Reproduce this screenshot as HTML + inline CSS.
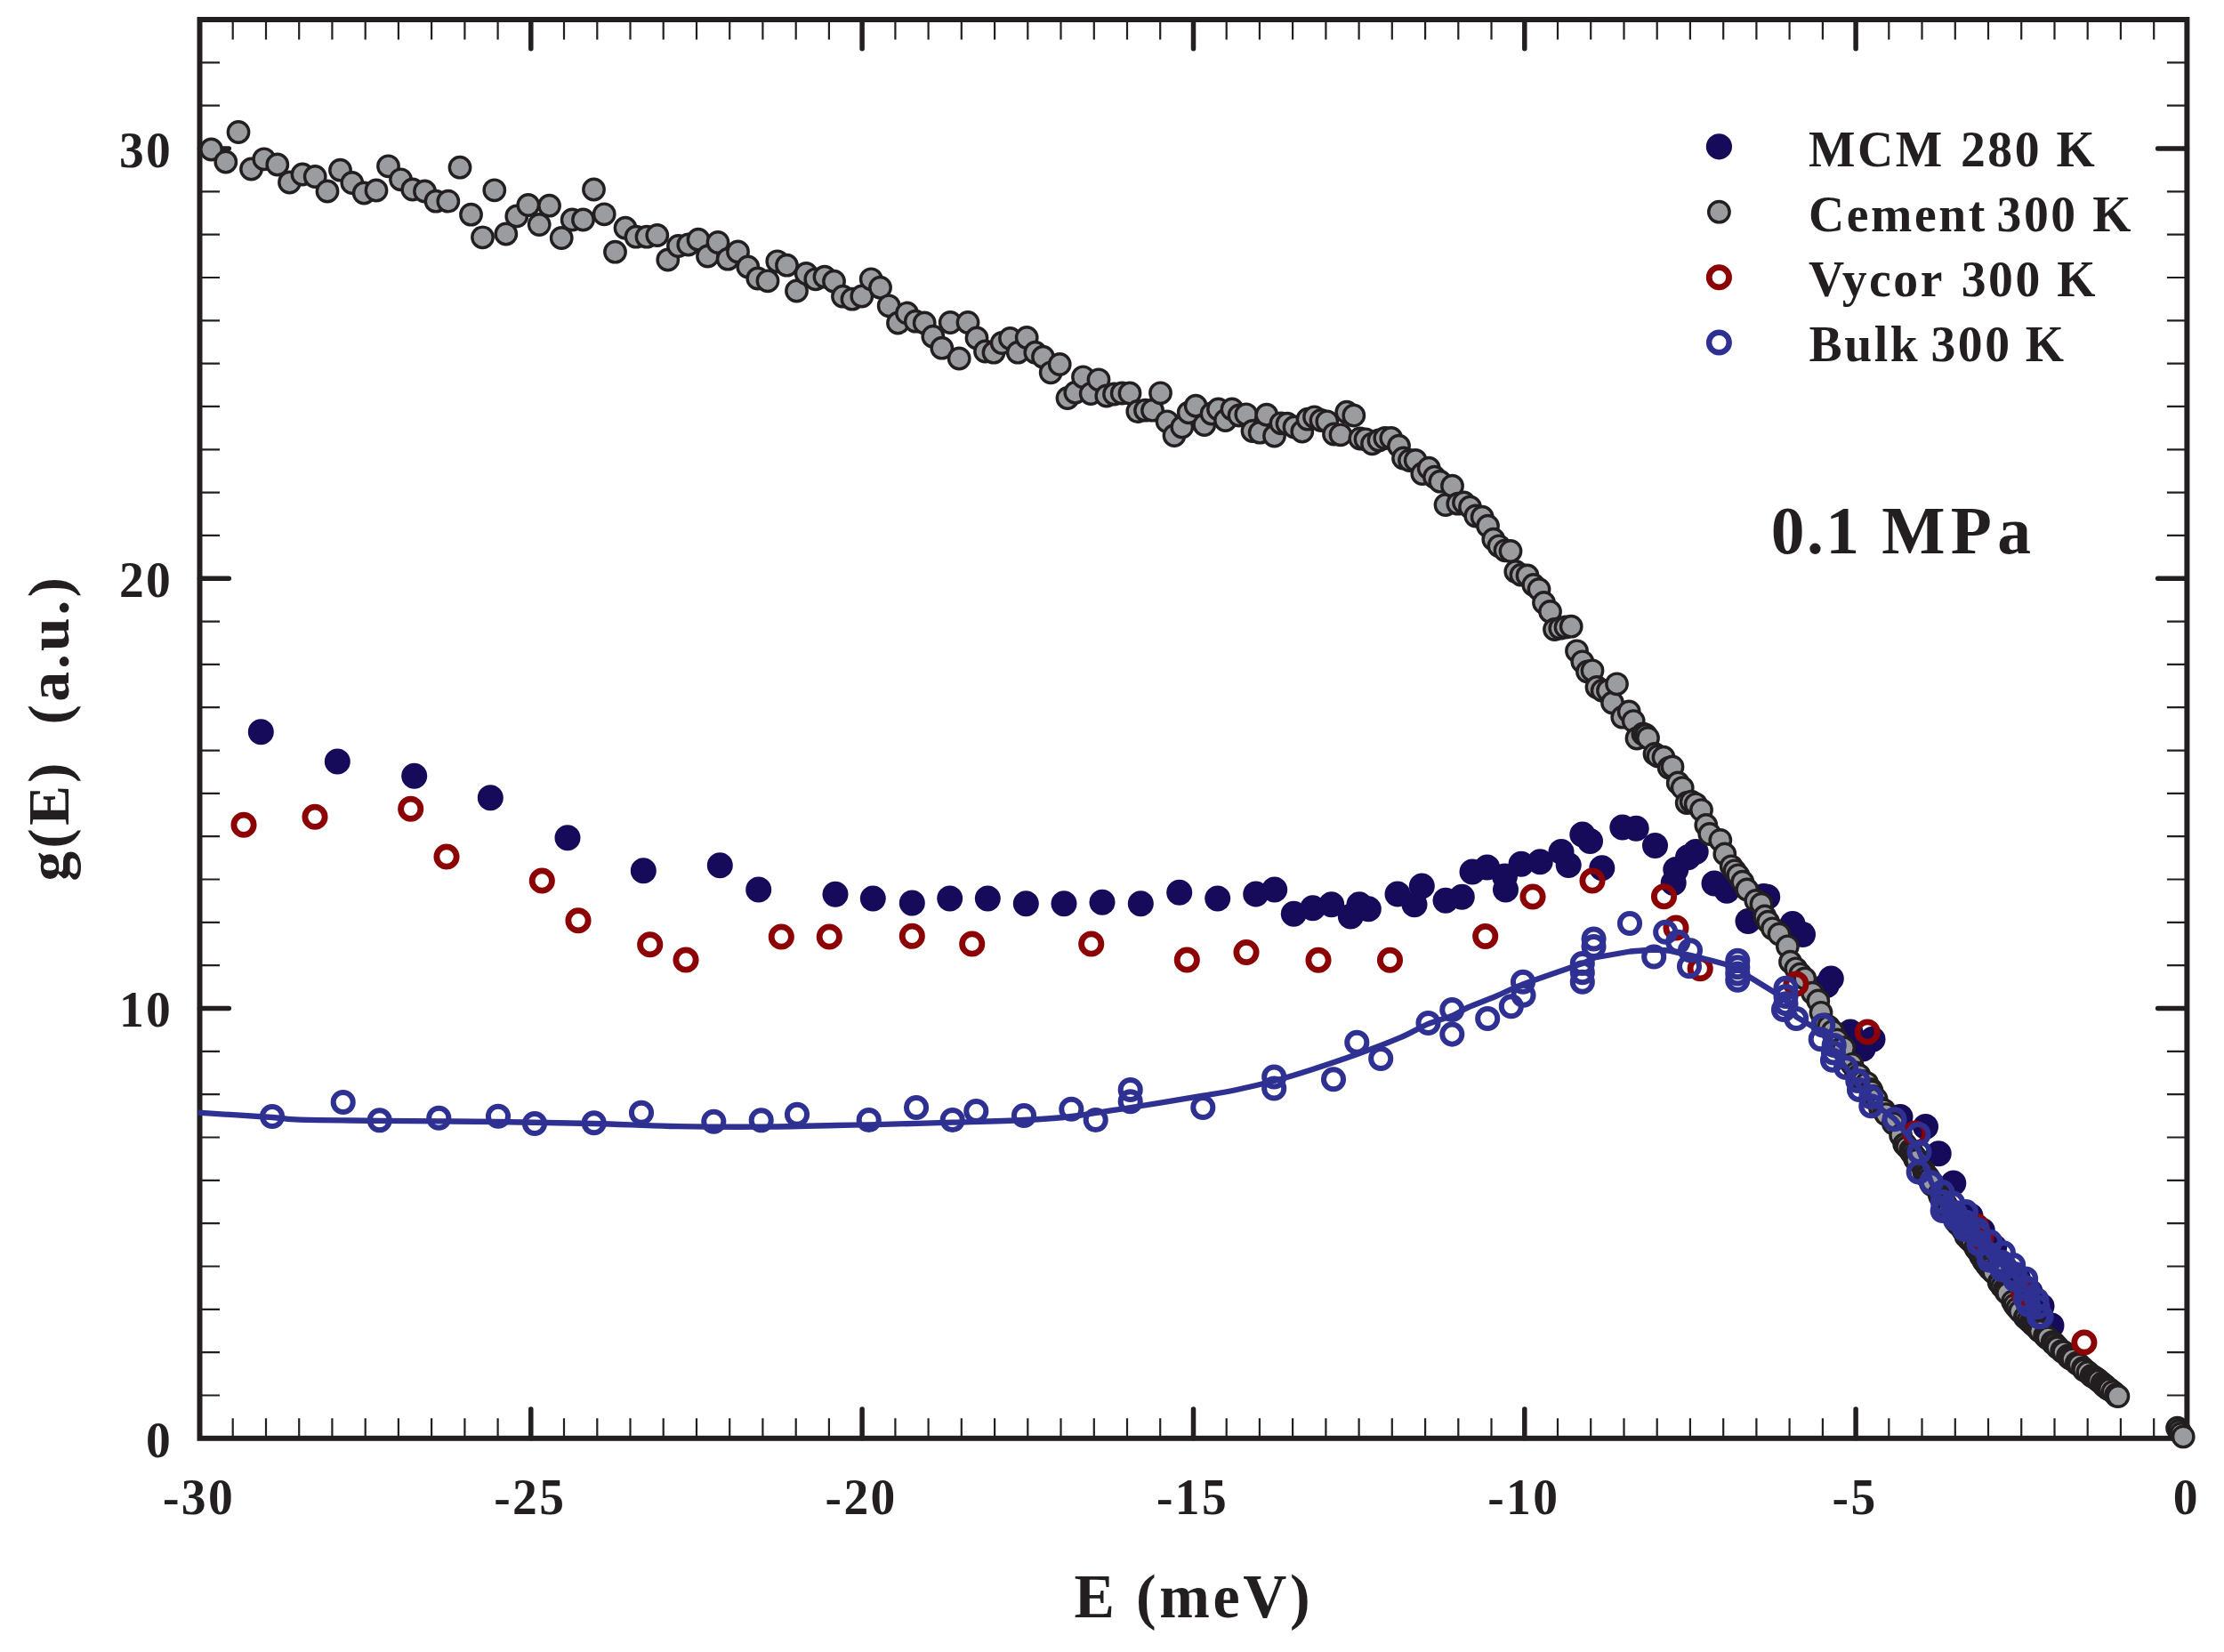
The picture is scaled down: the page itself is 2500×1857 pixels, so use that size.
<!DOCTYPE html>
<html lang="en"><head><meta charset="utf-8"><title>g(E) vs E</title>
<style>html,body{margin:0;padding:0;background:#fff}body{width:2500px;height:1857px;overflow:hidden}svg{display:block}text{font-family:"Liberation Serif","Times New Roman",serif;font-weight:bold;fill:#231f20}</style>
</head><body>
<svg width="2500" height="1857" viewBox="0 0 2500 1857">
<rect width="2500" height="1857" fill="#fff"/>
<g stroke="#231f20" fill="none">
<rect x="224.5" y="22.0" width="2233.9" height="1594.8" stroke-width="6"/>
<path stroke-width="2.2" d="M261.7 1616.8L261.7 1594.3M261.7 22.0L261.7 44.5M299.0 1616.8L299.0 1594.3M299.0 22.0L299.0 44.5M336.2 1616.8L336.2 1594.3M336.2 22.0L336.2 44.5M373.4 1616.8L373.4 1594.3M373.4 22.0L373.4 44.5M410.7 1616.8L410.7 1594.3M410.7 22.0L410.7 44.5M447.9 1616.8L447.9 1594.3M447.9 22.0L447.9 44.5M485.1 1616.8L485.1 1594.3M485.1 22.0L485.1 44.5M522.4 1616.8L522.4 1594.3M522.4 22.0L522.4 44.5M559.6 1616.8L559.6 1594.3M559.6 22.0L559.6 44.5M634.0 1616.8L634.0 1594.3M634.0 22.0L634.0 44.5M671.3 1616.8L671.3 1594.3M671.3 22.0L671.3 44.5M708.5 1616.8L708.5 1594.3M708.5 22.0L708.5 44.5M745.7 1616.8L745.7 1594.3M745.7 22.0L745.7 44.5M783.0 1616.8L783.0 1594.3M783.0 22.0L783.0 44.5M820.2 1616.8L820.2 1594.3M820.2 22.0L820.2 44.5M857.4 1616.8L857.4 1594.3M857.4 22.0L857.4 44.5M894.7 1616.8L894.7 1594.3M894.7 22.0L894.7 44.5M931.9 1616.8L931.9 1594.3M931.9 22.0L931.9 44.5M1006.4 1616.8L1006.4 1594.3M1006.4 22.0L1006.4 44.5M1043.6 1616.8L1043.6 1594.3M1043.6 22.0L1043.6 44.5M1080.8 1616.8L1080.8 1594.3M1080.8 22.0L1080.8 44.5M1118.1 1616.8L1118.1 1594.3M1118.1 22.0L1118.1 44.5M1155.3 1616.8L1155.3 1594.3M1155.3 22.0L1155.3 44.5M1192.5 1616.8L1192.5 1594.3M1192.5 22.0L1192.5 44.5M1229.8 1616.8L1229.8 1594.3M1229.8 22.0L1229.8 44.5M1267.0 1616.8L1267.0 1594.3M1267.0 22.0L1267.0 44.5M1304.2 1616.8L1304.2 1594.3M1304.2 22.0L1304.2 44.5M1378.7 1616.8L1378.7 1594.3M1378.7 22.0L1378.7 44.5M1415.9 1616.8L1415.9 1594.3M1415.9 22.0L1415.9 44.5M1453.1 1616.8L1453.1 1594.3M1453.1 22.0L1453.1 44.5M1490.4 1616.8L1490.4 1594.3M1490.4 22.0L1490.4 44.5M1527.6 1616.8L1527.6 1594.3M1527.6 22.0L1527.6 44.5M1564.8 1616.8L1564.8 1594.3M1564.8 22.0L1564.8 44.5M1602.1 1616.8L1602.1 1594.3M1602.1 22.0L1602.1 44.5M1639.3 1616.8L1639.3 1594.3M1639.3 22.0L1639.3 44.5M1676.5 1616.8L1676.5 1594.3M1676.5 22.0L1676.5 44.5M1751.0 1616.8L1751.0 1594.3M1751.0 22.0L1751.0 44.5M1788.2 1616.8L1788.2 1594.3M1788.2 22.0L1788.2 44.5M1825.5 1616.8L1825.5 1594.3M1825.5 22.0L1825.5 44.5M1862.7 1616.8L1862.7 1594.3M1862.7 22.0L1862.7 44.5M1899.9 1616.8L1899.9 1594.3M1899.9 22.0L1899.9 44.5M1937.2 1616.8L1937.2 1594.3M1937.2 22.0L1937.2 44.5M1974.4 1616.8L1974.4 1594.3M1974.4 22.0L1974.4 44.5M2011.6 1616.8L2011.6 1594.3M2011.6 22.0L2011.6 44.5M2048.9 1616.8L2048.9 1594.3M2048.9 22.0L2048.9 44.5M2123.3 1616.8L2123.3 1594.3M2123.3 22.0L2123.3 44.5M2160.5 1616.8L2160.5 1594.3M2160.5 22.0L2160.5 44.5M2197.8 1616.8L2197.8 1594.3M2197.8 22.0L2197.8 44.5M2235.0 1616.8L2235.0 1594.3M2235.0 22.0L2235.0 44.5M2272.2 1616.8L2272.2 1594.3M2272.2 22.0L2272.2 44.5M2309.5 1616.8L2309.5 1594.3M2309.5 22.0L2309.5 44.5M2346.7 1616.8L2346.7 1594.3M2346.7 22.0L2346.7 44.5M2383.9 1616.8L2383.9 1594.3M2383.9 22.0L2383.9 44.5M2421.2 1616.8L2421.2 1594.3M2421.2 22.0L2421.2 44.5M224.5 1568.5L247.0 1568.5M2458.4 1568.5L2435.9 1568.5M224.5 1520.1L247.0 1520.1M2458.4 1520.1L2435.9 1520.1M224.5 1471.8L247.0 1471.8M2458.4 1471.8L2435.9 1471.8M224.5 1423.5L247.0 1423.5M2458.4 1423.5L2435.9 1423.5M224.5 1375.2L247.0 1375.2M2458.4 1375.2L2435.9 1375.2M224.5 1326.8L247.0 1326.8M2458.4 1326.8L2435.9 1326.8M224.5 1278.5L247.0 1278.5M2458.4 1278.5L2435.9 1278.5M224.5 1230.2L247.0 1230.2M2458.4 1230.2L2435.9 1230.2M224.5 1181.9L247.0 1181.9M2458.4 1181.9L2435.9 1181.9M224.5 1085.2L247.0 1085.2M2458.4 1085.2L2435.9 1085.2M224.5 1036.9L247.0 1036.9M2458.4 1036.9L2435.9 1036.9M224.5 988.5L247.0 988.5M2458.4 988.5L2435.9 988.5M224.5 940.2L247.0 940.2M2458.4 940.2L2435.9 940.2M224.5 891.9L247.0 891.9M2458.4 891.9L2435.9 891.9M224.5 843.6L247.0 843.6M2458.4 843.6L2435.9 843.6M224.5 795.2L247.0 795.2M2458.4 795.2L2435.9 795.2M224.5 746.9L247.0 746.9M2458.4 746.9L2435.9 746.9M224.5 698.6L247.0 698.6M2458.4 698.6L2435.9 698.6M224.5 601.9L247.0 601.9M2458.4 601.9L2435.9 601.9M224.5 553.6L247.0 553.6M2458.4 553.6L2435.9 553.6M224.5 505.3L247.0 505.3M2458.4 505.3L2435.9 505.3M224.5 456.9L247.0 456.9M2458.4 456.9L2435.9 456.9M224.5 408.6L247.0 408.6M2458.4 408.6L2435.9 408.6M224.5 360.3L247.0 360.3M2458.4 360.3L2435.9 360.3M224.5 312.0L247.0 312.0M2458.4 312.0L2435.9 312.0M224.5 263.6L247.0 263.6M2458.4 263.6L2435.9 263.6M224.5 215.3L247.0 215.3M2458.4 215.3L2435.9 215.3M224.5 118.7L247.0 118.7M2458.4 118.7L2435.9 118.7M224.5 70.3L247.0 70.3M2458.4 70.3L2435.9 70.3"/>
<path stroke-width="5.5" stroke-linecap="round" d="M596.8 1616.8L596.8 1584.0M596.8 22.0L596.8 54.8M969.1 1616.8L969.1 1584.0M969.1 22.0L969.1 54.8M1341.5 1616.8L1341.5 1584.0M1341.5 22.0L1341.5 54.8M1713.8 1616.8L1713.8 1584.0M1713.8 22.0L1713.8 54.8M2086.1 1616.8L2086.1 1584.0M2086.1 22.0L2086.1 54.8M224.5 1133.5L257.3 1133.5M2458.4 1133.5L2425.6 1133.5M224.5 650.3L257.3 650.3M2458.4 650.3L2425.6 650.3M224.5 167.0L257.3 167.0M2458.4 167.0L2425.6 167.0"/>
</g>
<text transform="translate(194.2 1637.6) scale(1 1.018)" font-size="55.5" letter-spacing="2.40" text-anchor="end" xml:space="preserve">0</text>
<text transform="translate(194.2 1154.3) scale(1 1.018)" font-size="55.5" letter-spacing="2.40" text-anchor="end" xml:space="preserve">10</text>
<text transform="translate(194.2 671.1) scale(1 1.018)" font-size="55.5" letter-spacing="2.40" text-anchor="end" xml:space="preserve">20</text>
<text transform="translate(194.2 187.8) scale(1 1.018)" font-size="55.5" letter-spacing="2.40" text-anchor="end" xml:space="preserve">30</text>
<text transform="translate(223.5 1702.3) scale(1 1.018)" font-size="55.5" letter-spacing="2.40" text-anchor="middle" xml:space="preserve">-30</text>
<text transform="translate(595.8 1702.3) scale(1 1.018)" font-size="55.5" letter-spacing="2.40" text-anchor="middle" xml:space="preserve">-25</text>
<text transform="translate(968.1 1702.3) scale(1 1.018)" font-size="55.5" letter-spacing="2.40" text-anchor="middle" xml:space="preserve">-20</text>
<text transform="translate(1340.5 1702.3) scale(1 1.018)" font-size="55.5" letter-spacing="2.40" text-anchor="middle" xml:space="preserve">-15</text>
<text transform="translate(1712.8 1702.3) scale(1 1.018)" font-size="55.5" letter-spacing="2.40" text-anchor="middle" xml:space="preserve">-10</text>
<text transform="translate(2085.1 1702.3) scale(1 1.018)" font-size="55.5" letter-spacing="2.40" text-anchor="middle" xml:space="preserve">-5</text>
<text transform="translate(2457.9 1702.3) scale(1 1.018)" font-size="55.5" letter-spacing="2.40" text-anchor="middle" xml:space="preserve">0</text>
<text transform="translate(1207.5 1817.8) scale(1 1.030)" font-size="68.0" letter-spacing="3.60" text-anchor="start" xml:space="preserve">E (meV)</text>
<text transform="translate(77.0 990.5) rotate(-90) scale(1 0.975)" font-size="67.5" letter-spacing="3.10" text-anchor="start" xml:space="preserve">g(E)  (a.u.)</text>
<text transform="translate(1990.7 621.5) scale(1 1.018)" font-size="75.5" letter-spacing="3.50" text-anchor="start" xml:space="preserve"><tspan letter-spacing="2.5">0.1</tspan> <tspan x="124.6" letter-spacing="6.3">MPa</tspan></text>
<text transform="translate(2033.0 187.1) scale(1 1.018)" font-size="55.6" letter-spacing="2.60" text-anchor="start" xml:space="preserve">MCM <tspan dx="1.5">280</tspan> K</text>
<text transform="translate(2033.0 259.9) scale(1 1.018)" font-size="55.6" letter-spacing="2.60" text-anchor="start" xml:space="preserve">Cement <tspan dx="-5.8">300</tspan> K</text>
<text transform="translate(2033.0 333.0) scale(1 1.018)" font-size="55.6" letter-spacing="2.60" text-anchor="start" xml:space="preserve">Vycor <tspan dx="3.2">300</tspan> K</text>
<text transform="translate(2033.6 406.4) scale(1 1.018)" font-size="55.6" letter-spacing="2.60" text-anchor="start" xml:space="preserve">Bulk <tspan dx="-4.4">300</tspan> <tspan dx="-1.4">K</tspan></text>
<circle cx="1932.4" cy="164.8" r="14.6" fill="#160a5a"/>
<circle cx="1932.4" cy="238.2" r="11.7" fill="#9a9c9f" stroke="#231f20" stroke-width="3.4"/>
<circle cx="1932.4" cy="311.7" r="11.15" fill="none" stroke="#8c0306" stroke-width="6.8"/>
<circle cx="1932.4" cy="385" r="11.3" fill="none" stroke="#2e3192" stroke-width="6.4"/>
<g fill="#160a5a">
<circle cx="293.3" cy="822.7" r="14.5"/>
<circle cx="379.3" cy="856.0" r="14.5"/>
<circle cx="465.7" cy="872.3" r="14.5"/>
<circle cx="551.3" cy="896.7" r="14.5"/>
<circle cx="638.0" cy="941.7" r="14.5"/>
<circle cx="723.3" cy="978.7" r="14.5"/>
<circle cx="809.3" cy="972.7" r="14.5"/>
<circle cx="852.7" cy="1000.0" r="14.5"/>
<circle cx="939.0" cy="1005.3" r="14.5"/>
<circle cx="981.3" cy="1010.0" r="14.5"/>
<circle cx="1025.3" cy="1015.0" r="14.5"/>
<circle cx="1067.7" cy="1010.0" r="14.5"/>
<circle cx="1110.3" cy="1010.0" r="14.5"/>
<circle cx="1153.3" cy="1015.7" r="14.5"/>
<circle cx="1196.0" cy="1015.7" r="14.5"/>
<circle cx="1239.0" cy="1014.3" r="14.5"/>
<circle cx="1282.3" cy="1015.7" r="14.5"/>
<circle cx="1325.7" cy="1003.3" r="14.5"/>
<circle cx="1368.7" cy="1010.0" r="14.5"/>
<circle cx="1411.7" cy="1005.0" r="14.5"/>
<circle cx="1432.7" cy="1000.0" r="14.5"/>
<circle cx="1454.3" cy="1027.3" r="14.5"/>
<circle cx="1475.7" cy="1020.7" r="14.5"/>
<circle cx="1496.7" cy="1016.7" r="14.5"/>
<circle cx="1518.3" cy="1030.0" r="14.5"/>
<circle cx="1528.0" cy="1016.7" r="14.5"/>
<circle cx="1538.3" cy="1021.7" r="14.5"/>
<circle cx="1571.0" cy="1005.0" r="14.5"/>
<circle cx="1590.0" cy="1016.7" r="14.5"/>
<circle cx="1598.3" cy="996.0" r="14.5"/>
<circle cx="1625.0" cy="1012.3" r="14.5"/>
<circle cx="1643.3" cy="1008.3" r="14.5"/>
<circle cx="1655.0" cy="980.0" r="14.5"/>
<circle cx="1671.7" cy="975.0" r="14.5"/>
<circle cx="1692.5" cy="1000.0" r="14.5"/>
<circle cx="1691.5" cy="985.0" r="14.5"/>
<circle cx="1710.0" cy="971.2" r="14.5"/>
<circle cx="1731.2" cy="968.8" r="14.5"/>
<circle cx="1755.0" cy="957.5" r="14.5"/>
<circle cx="1763.2" cy="972.5" r="14.5"/>
<circle cx="1778.8" cy="938.0" r="14.5"/>
<circle cx="1787.5" cy="945.5" r="14.5"/>
<circle cx="1800.8" cy="975.8" r="14.5"/>
<circle cx="1823.8" cy="930.0" r="14.5"/>
<circle cx="1839.2" cy="931.2" r="14.5"/>
<circle cx="1860.5" cy="950.5" r="14.5"/>
<circle cx="1881.2" cy="992.5" r="14.5"/>
<circle cx="1883.8" cy="977.5" r="14.5"/>
<circle cx="1897.5" cy="963.8" r="14.5"/>
<circle cx="1906.2" cy="957.5" r="14.5"/>
<circle cx="1927.0" cy="993.0" r="14.5"/>
<circle cx="1941.2" cy="1001.2" r="14.5"/>
<circle cx="1965.0" cy="1035.5" r="14.5"/>
<circle cx="1982.5" cy="1007.5" r="14.5"/>
<circle cx="1986.7" cy="1008.3" r="14.5"/>
<circle cx="2015.0" cy="1038.5" r="14.5"/>
<circle cx="2026.5" cy="1050.5" r="14.5"/>
<circle cx="2058.3" cy="1100.0" r="14.5"/>
<circle cx="2053.3" cy="1107.5" r="14.5"/>
<circle cx="2080.0" cy="1160.0" r="14.5"/>
<circle cx="2105.0" cy="1168.3" r="14.5"/>
<circle cx="2094.0" cy="1179.0" r="14.5"/>
<circle cx="2136.0" cy="1255.5" r="14.5"/>
<circle cx="2164.5" cy="1266.5" r="14.5"/>
<circle cx="2179.2" cy="1296.7" r="14.5"/>
<circle cx="2195.8" cy="1330.0" r="14.5"/>
<circle cx="2215.0" cy="1366.7" r="14.5"/>
<circle cx="2228.3" cy="1383.3" r="14.5"/>
<circle cx="2241.7" cy="1401.7" r="14.5"/>
<circle cx="2268.3" cy="1436.7" r="14.5"/>
<circle cx="2282.0" cy="1452.0" r="14.5"/>
<circle cx="2295.0" cy="1468.3" r="14.5"/>
<circle cx="2306.0" cy="1490.0" r="14.5"/>
</g>
<g fill="#9a9c9f" stroke="#231f20" stroke-width="3.4">
<circle cx="237.5" cy="168.0" r="11.7"/>
<circle cx="253.8" cy="182.0" r="11.7"/>
<circle cx="268.0" cy="148.5" r="11.7"/>
<circle cx="282.5" cy="190.0" r="11.7"/>
<circle cx="296.8" cy="178.8" r="11.7"/>
<circle cx="311.8" cy="185.0" r="11.7"/>
<circle cx="325.5" cy="205.0" r="11.7"/>
<circle cx="340.0" cy="196.0" r="11.7"/>
<circle cx="354.2" cy="198.5" r="11.7"/>
<circle cx="368.0" cy="215.0" r="11.7"/>
<circle cx="382.5" cy="191.2" r="11.7"/>
<circle cx="395.8" cy="205.5" r="11.7"/>
<circle cx="409.2" cy="217.0" r="11.7"/>
<circle cx="423.0" cy="214.0" r="11.7"/>
<circle cx="436.5" cy="186.8" r="11.7"/>
<circle cx="450.5" cy="201.8" r="11.7"/>
<circle cx="463.8" cy="213.0" r="11.7"/>
<circle cx="477.5" cy="215.0" r="11.7"/>
<circle cx="490.0" cy="226.2" r="11.7"/>
<circle cx="503.8" cy="226.2" r="11.7"/>
<circle cx="517.0" cy="188.2" r="11.7"/>
<circle cx="529.5" cy="241.2" r="11.7"/>
<circle cx="542.5" cy="266.8" r="11.7"/>
<circle cx="555.8" cy="213.8" r="11.7"/>
<circle cx="568.8" cy="263.0" r="11.7"/>
<circle cx="580.8" cy="243.0" r="11.7"/>
<circle cx="593.8" cy="230.5" r="11.7"/>
<circle cx="606.2" cy="252.5" r="11.7"/>
<circle cx="617.5" cy="231.2" r="11.7"/>
<circle cx="631.2" cy="267.5" r="11.7"/>
<circle cx="643.2" cy="247.0" r="11.7"/>
<circle cx="655.5" cy="247.0" r="11.7"/>
<circle cx="667.5" cy="213.0" r="11.7"/>
<circle cx="679.2" cy="240.8" r="11.7"/>
<circle cx="691.5" cy="283.2" r="11.7"/>
<circle cx="703.0" cy="256.2" r="11.7"/>
<circle cx="715.0" cy="266.2" r="11.7"/>
<circle cx="727.0" cy="266.2" r="11.7"/>
<circle cx="738.8" cy="264.5" r="11.7"/>
<circle cx="750.8" cy="292.0" r="11.7"/>
<circle cx="762.5" cy="276.5" r="11.7"/>
<circle cx="773.8" cy="275.0" r="11.7"/>
<circle cx="785.0" cy="269.2" r="11.7"/>
<circle cx="795.5" cy="288.0" r="11.7"/>
<circle cx="807.0" cy="272.5" r="11.7"/>
<circle cx="818.2" cy="291.2" r="11.7"/>
<circle cx="829.5" cy="283.0" r="11.7"/>
<circle cx="840.8" cy="300.0" r="11.7"/>
<circle cx="851.8" cy="313.0" r="11.7"/>
<circle cx="863.0" cy="315.8" r="11.7"/>
<circle cx="873.8" cy="293.8" r="11.7"/>
<circle cx="884.5" cy="298.2" r="11.7"/>
<circle cx="895.5" cy="327.0" r="11.7"/>
<circle cx="906.2" cy="307.5" r="11.7"/>
<circle cx="916.8" cy="313.8" r="11.7"/>
<circle cx="927.0" cy="311.2" r="11.7"/>
<circle cx="937.5" cy="316.2" r="11.7"/>
<circle cx="947.5" cy="333.2" r="11.7"/>
<circle cx="958.0" cy="336.2" r="11.7"/>
<circle cx="968.8" cy="333.0" r="11.7"/>
<circle cx="979.2" cy="313.8" r="11.7"/>
<circle cx="989.5" cy="323.2" r="11.7"/>
<circle cx="999.2" cy="343.8" r="11.7"/>
<circle cx="1009.5" cy="363.0" r="11.7"/>
<circle cx="1019.5" cy="352.0" r="11.7"/>
<circle cx="1029.2" cy="361.2" r="11.7"/>
<circle cx="1039.2" cy="363.0" r="11.7"/>
<circle cx="1048.8" cy="378.2" r="11.7"/>
<circle cx="1058.8" cy="391.2" r="11.7"/>
<circle cx="1068.2" cy="362.5" r="11.7"/>
<circle cx="1078.2" cy="403.0" r="11.7"/>
<circle cx="1088.0" cy="362.5" r="11.7"/>
<circle cx="1098.0" cy="380.0" r="11.7"/>
<circle cx="1107.5" cy="395.0" r="11.7"/>
<circle cx="1117.0" cy="396.2" r="11.7"/>
<circle cx="1126.2" cy="385.5" r="11.7"/>
<circle cx="1135.5" cy="380.5" r="11.7"/>
<circle cx="1144.2" cy="396.2" r="11.7"/>
<circle cx="1154.2" cy="379.5" r="11.7"/>
<circle cx="1163.8" cy="396.2" r="11.7"/>
<circle cx="1172.5" cy="401.2" r="11.7"/>
<circle cx="1181.2" cy="418.8" r="11.7"/>
<circle cx="1191.2" cy="409.5" r="11.7"/>
<circle cx="1200.0" cy="447.5" r="11.7"/>
<circle cx="1208.8" cy="441.2" r="11.7"/>
<circle cx="1217.5" cy="423.8" r="11.7"/>
<circle cx="1226.2" cy="442.5" r="11.7"/>
<circle cx="1235.0" cy="426.8" r="11.7"/>
<circle cx="1243.8" cy="445.0" r="11.7"/>
<circle cx="1252.5" cy="443.0" r="11.7"/>
<circle cx="1261.2" cy="442.0" r="11.7"/>
<circle cx="1270.0" cy="442.0" r="11.7"/>
<circle cx="1278.8" cy="462.5" r="11.7"/>
<circle cx="1287.5" cy="461.2" r="11.7"/>
<circle cx="1295.5" cy="461.2" r="11.7"/>
<circle cx="1304.5" cy="441.8" r="11.7"/>
<circle cx="1312.0" cy="473.8" r="11.7"/>
<circle cx="1320.0" cy="489.5" r="11.7"/>
<circle cx="1328.8" cy="480.0" r="11.7"/>
<circle cx="1336.2" cy="463.8" r="11.7"/>
<circle cx="1344.2" cy="456.2" r="11.7"/>
<circle cx="1353.8" cy="477.5" r="11.7"/>
<circle cx="1362.0" cy="465.0" r="11.7"/>
<circle cx="1369.5" cy="460.0" r="11.7"/>
<circle cx="1377.5" cy="472.5" r="11.7"/>
<circle cx="1385.0" cy="460.0" r="11.7"/>
<circle cx="1393.0" cy="467.0" r="11.7"/>
<circle cx="1400.8" cy="465.8" r="11.7"/>
<circle cx="1408.0" cy="484.5" r="11.7"/>
<circle cx="1416.2" cy="486.2" r="11.7"/>
<circle cx="1423.8" cy="466.2" r="11.7"/>
<circle cx="1432.5" cy="490.0" r="11.7"/>
<circle cx="1440.0" cy="475.8" r="11.7"/>
<circle cx="1447.0" cy="476.2" r="11.7"/>
<circle cx="1455.0" cy="480.0" r="11.7"/>
<circle cx="1463.8" cy="485.0" r="11.7"/>
<circle cx="1470.0" cy="471.2" r="11.7"/>
<circle cx="1477.5" cy="468.8" r="11.7"/>
<circle cx="1485.0" cy="472.5" r="11.7"/>
<circle cx="1491.8" cy="473.8" r="11.7"/>
<circle cx="1499.5" cy="488.0" r="11.7"/>
<circle cx="1507.0" cy="488.8" r="11.7"/>
<circle cx="1513.8" cy="463.2" r="11.7"/>
<circle cx="1521.8" cy="467.0" r="11.7"/>
<circle cx="1528.8" cy="493.0" r="11.7"/>
<circle cx="1535.0" cy="493.8" r="11.7"/>
<circle cx="1542.5" cy="498.8" r="11.7"/>
<circle cx="1550.0" cy="495.0" r="11.7"/>
<circle cx="1556.8" cy="492.5" r="11.7"/>
<circle cx="1563.8" cy="492.5" r="11.7"/>
<circle cx="1572.5" cy="501.2" r="11.7"/>
<circle cx="1577.5" cy="515.0" r="11.7"/>
<circle cx="1584.5" cy="517.5" r="11.7"/>
<circle cx="1591.2" cy="517.5" r="11.7"/>
<circle cx="1598.8" cy="532.5" r="11.7"/>
<circle cx="1606.2" cy="526.2" r="11.7"/>
<circle cx="1612.5" cy="536.2" r="11.7"/>
<circle cx="1618.8" cy="541.2" r="11.7"/>
<circle cx="1625.0" cy="567.5" r="11.7"/>
<circle cx="1632.5" cy="546.2" r="11.7"/>
<circle cx="1638.8" cy="566.2" r="11.7"/>
<circle cx="1645.5" cy="565.0" r="11.7"/>
<circle cx="1652.5" cy="570.0" r="11.7"/>
<circle cx="1658.8" cy="580.0" r="11.7"/>
<circle cx="1666.2" cy="581.2" r="11.7"/>
<circle cx="1672.5" cy="591.2" r="11.7"/>
<circle cx="1678.8" cy="606.2" r="11.7"/>
<circle cx="1685.0" cy="613.8" r="11.7"/>
<circle cx="1692.0" cy="618.8" r="11.7"/>
<circle cx="1698.0" cy="619.5" r="11.7"/>
<circle cx="1703.8" cy="642.5" r="11.7"/>
<circle cx="1710.0" cy="646.2" r="11.7"/>
<circle cx="1717.0" cy="647.0" r="11.7"/>
<circle cx="1723.8" cy="657.5" r="11.7"/>
<circle cx="1730.0" cy="662.5" r="11.7"/>
<circle cx="1735.5" cy="677.5" r="11.7"/>
<circle cx="1742.5" cy="687.5" r="11.7"/>
<circle cx="1747.5" cy="707.5" r="11.7"/>
<circle cx="1753.8" cy="706.2" r="11.7"/>
<circle cx="1760.0" cy="705.0" r="11.7"/>
<circle cx="1766.2" cy="704.2" r="11.7"/>
<circle cx="1772.5" cy="731.8" r="11.7"/>
<circle cx="1778.8" cy="743.8" r="11.7"/>
<circle cx="1784.5" cy="755.0" r="11.7"/>
<circle cx="1790.0" cy="753.8" r="11.7"/>
<circle cx="1795.0" cy="772.5" r="11.7"/>
<circle cx="1801.2" cy="776.2" r="11.7"/>
<circle cx="1807.5" cy="776.2" r="11.7"/>
<circle cx="1812.5" cy="790.0" r="11.7"/>
<circle cx="1817.5" cy="768.8" r="11.7"/>
<circle cx="1823.8" cy="806.2" r="11.7"/>
<circle cx="1831.2" cy="800.0" r="11.7"/>
<circle cx="1836.2" cy="810.6" r="11.7"/>
<circle cx="1840.0" cy="830.0" r="11.7"/>
<circle cx="1846.9" cy="825.0" r="11.7"/>
<circle cx="1850.0" cy="826.2" r="11.7"/>
<circle cx="1852.5" cy="829.4" r="11.7"/>
<circle cx="1860.0" cy="847.5" r="11.7"/>
<circle cx="1863.8" cy="850.0" r="11.7"/>
<circle cx="1870.0" cy="851.2" r="11.7"/>
<circle cx="1876.2" cy="863.1" r="11.7"/>
<circle cx="1880.0" cy="861.9" r="11.7"/>
<circle cx="1886.2" cy="880.0" r="11.7"/>
<circle cx="1891.2" cy="885.6" r="11.7"/>
<circle cx="1896.2" cy="902.5" r="11.7"/>
<circle cx="1901.2" cy="901.2" r="11.7"/>
<circle cx="1906.2" cy="903.8" r="11.7"/>
<circle cx="1912.5" cy="910.6" r="11.7"/>
<circle cx="1917.8" cy="927.5" r="11.7"/>
<circle cx="1921.8" cy="937.5" r="11.7"/>
<circle cx="1933.8" cy="944.4" r="11.7"/>
<circle cx="1938.8" cy="960.0" r="11.7"/>
<circle cx="1946.2" cy="973.8" r="11.7"/>
<circle cx="1950.0" cy="978.8" r="11.7"/>
<circle cx="1953.8" cy="983.8" r="11.7"/>
<circle cx="1958.8" cy="991.2" r="11.7"/>
<circle cx="1963.8" cy="1000.0" r="11.7"/>
<circle cx="1973.8" cy="1012.5" r="11.7"/>
<circle cx="1980.0" cy="1016.2" r="11.7"/>
<circle cx="1983.8" cy="1030.0" r="11.7"/>
<circle cx="1987.5" cy="1036.2" r="11.7"/>
<circle cx="1992.5" cy="1043.8" r="11.7"/>
<circle cx="2000.0" cy="1050.0" r="11.7"/>
<circle cx="2009.4" cy="1063.8" r="11.7"/>
<circle cx="2012.5" cy="1081.2" r="11.7"/>
<circle cx="2018.8" cy="1088.8" r="11.7"/>
<circle cx="2023.8" cy="1095.0" r="11.7"/>
<circle cx="2028.8" cy="1100.0" r="11.7"/>
<circle cx="2037.5" cy="1116.2" r="11.7"/>
<circle cx="2043.8" cy="1125.0" r="11.7"/>
<circle cx="2047.0" cy="1138.3" r="11.7"/>
<circle cx="2051.8" cy="1151.8" r="11.7"/>
<circle cx="2055.5" cy="1154.1" r="11.7"/>
<circle cx="2060.2" cy="1159.3" r="11.7"/>
<circle cx="2065.0" cy="1169.0" r="11.7"/>
<circle cx="2069.7" cy="1178.8" r="11.7"/>
<circle cx="2070.8" cy="1177.9" r="11.7"/>
<circle cx="2072.6" cy="1177.8" r="11.7"/>
<circle cx="2081.8" cy="1196.3" r="11.7"/>
<circle cx="2086.4" cy="1205.9" r="11.7"/>
<circle cx="2089.8" cy="1208.6" r="11.7"/>
<circle cx="2094.3" cy="1215.3" r="11.7"/>
<circle cx="2098.7" cy="1217.6" r="11.7"/>
<circle cx="2103.1" cy="1224.6" r="11.7"/>
<circle cx="2104.2" cy="1227.1" r="11.7"/>
<circle cx="2105.8" cy="1232.4" r="11.7"/>
<circle cx="2109.1" cy="1235.4" r="11.7"/>
<circle cx="2113.4" cy="1245.3" r="11.7"/>
<circle cx="2117.7" cy="1247.8" r="11.7"/>
<circle cx="2119.8" cy="1252.6" r="11.7"/>
<circle cx="2128.3" cy="1262.7" r="11.7"/>
<circle cx="2136.6" cy="1276.2" r="11.7"/>
<circle cx="2140.7" cy="1286.3" r="11.7"/>
<circle cx="2141.7" cy="1286.2" r="11.7"/>
<circle cx="2143.7" cy="1289.4" r="11.7"/>
<circle cx="2147.7" cy="1292.8" r="11.7"/>
<circle cx="2148.7" cy="1295.7" r="11.7"/>
<circle cx="2149.7" cy="1296.3" r="11.7"/>
<circle cx="2151.7" cy="1299.2" r="11.7"/>
<circle cx="2152.7" cy="1303.1" r="11.7"/>
<circle cx="2153.6" cy="1301.2" r="11.7"/>
<circle cx="2154.6" cy="1304.1" r="11.7"/>
<circle cx="2162.5" cy="1315.9" r="11.7"/>
<circle cx="2163.4" cy="1318.2" r="11.7"/>
<circle cx="2164.9" cy="1321.5" r="11.7"/>
<circle cx="2166.8" cy="1322.3" r="11.7"/>
<circle cx="2168.7" cy="1325.3" r="11.7"/>
<circle cx="2171.5" cy="1331.7" r="11.7"/>
<circle cx="2172.5" cy="1330.3" r="11.7"/>
<circle cx="2180.0" cy="1341.9" r="11.7"/>
<circle cx="2180.9" cy="1344.9" r="11.7"/>
<circle cx="2183.7" cy="1348.0" r="11.7"/>
<circle cx="2187.4" cy="1353.7" r="11.7"/>
<circle cx="2191.0" cy="1359.4" r="11.7"/>
<circle cx="2198.2" cy="1372.7" r="11.7"/>
<circle cx="2200.8" cy="1375.9" r="11.7"/>
<circle cx="2201.7" cy="1376.2" r="11.7"/>
<circle cx="2203.0" cy="1376.5" r="11.7"/>
<circle cx="2206.5" cy="1382.6" r="11.7"/>
<circle cx="2207.4" cy="1383.4" r="11.7"/>
<circle cx="2210.0" cy="1389.8" r="11.7"/>
<circle cx="2213.4" cy="1393.3" r="11.7"/>
<circle cx="2214.2" cy="1392.5" r="11.7"/>
<circle cx="2215.5" cy="1394.9" r="11.7"/>
<circle cx="2217.2" cy="1396.6" r="11.7"/>
<circle cx="2220.5" cy="1402.3" r="11.7"/>
<circle cx="2222.2" cy="1404.8" r="11.7"/>
<circle cx="2223.0" cy="1405.1" r="11.7"/>
<circle cx="2226.3" cy="1411.3" r="11.7"/>
<circle cx="2227.2" cy="1412.4" r="11.7"/>
<circle cx="2228.8" cy="1414.7" r="11.7"/>
<circle cx="2230.0" cy="1417.4" r="11.7"/>
<circle cx="2232.4" cy="1420.4" r="11.7"/>
<circle cx="2233.6" cy="1422.2" r="11.7"/>
<circle cx="2234.8" cy="1423.2" r="11.7"/>
<circle cx="2236.4" cy="1426.1" r="11.7"/>
<circle cx="2239.6" cy="1428.8" r="11.7"/>
<circle cx="2240.8" cy="1430.3" r="11.7"/>
<circle cx="2247.1" cy="1441.4" r="11.7"/>
<circle cx="2248.2" cy="1442.5" r="11.7"/>
<circle cx="2250.5" cy="1446.3" r="11.7"/>
<circle cx="2253.6" cy="1449.0" r="11.7"/>
<circle cx="2254.3" cy="1450.2" r="11.7"/>
<circle cx="2255.1" cy="1452.2" r="11.7"/>
<circle cx="2256.6" cy="1453.8" r="11.7"/>
<circle cx="2262.6" cy="1462.9" r="11.7"/>
<circle cx="2264.8" cy="1466.9" r="11.7"/>
<circle cx="2267.7" cy="1470.6" r="11.7"/>
<circle cx="2270.6" cy="1474.0" r="11.7"/>
<circle cx="2276.3" cy="1480.7" r="11.7"/>
<circle cx="2277.3" cy="1480.5" r="11.7"/>
<circle cx="2280.1" cy="1483.9" r="11.7"/>
<circle cx="2282.9" cy="1486.4" r="11.7"/>
<circle cx="2284.3" cy="1487.1" r="11.7"/>
<circle cx="2285.3" cy="1488.9" r="11.7"/>
<circle cx="2286.0" cy="1488.8" r="11.7"/>
<circle cx="2288.0" cy="1490.7" r="11.7"/>
<circle cx="2288.7" cy="1491.2" r="11.7"/>
<circle cx="2290.0" cy="1493.1" r="11.7"/>
<circle cx="2291.0" cy="1493.3" r="11.7"/>
<circle cx="2292.0" cy="1495.5" r="11.7"/>
<circle cx="2293.3" cy="1496.4" r="11.7"/>
<circle cx="2298.6" cy="1501.2" r="11.7"/>
<circle cx="2299.6" cy="1502.2" r="11.7"/>
<circle cx="2300.2" cy="1502.7" r="11.7"/>
<circle cx="2301.5" cy="1504.2" r="11.7"/>
<circle cx="2302.1" cy="1503.8" r="11.7"/>
<circle cx="2307.2" cy="1508.6" r="11.7"/>
<circle cx="2307.9" cy="1510.1" r="11.7"/>
<circle cx="2309.1" cy="1510.3" r="11.7"/>
<circle cx="2309.7" cy="1510.7" r="11.7"/>
<circle cx="2312.2" cy="1513.3" r="11.7"/>
<circle cx="2312.8" cy="1514.7" r="11.7"/>
<circle cx="2317.7" cy="1518.6" r="11.7"/>
<circle cx="2318.6" cy="1519.4" r="11.7"/>
<circle cx="2319.8" cy="1519.8" r="11.7"/>
<circle cx="2324.6" cy="1524.0" r="11.7"/>
<circle cx="2325.1" cy="1525.2" r="11.7"/>
<circle cx="2326.9" cy="1526.8" r="11.7"/>
<circle cx="2327.5" cy="1527.1" r="11.7"/>
<circle cx="2329.8" cy="1527.7" r="11.7"/>
<circle cx="2334.3" cy="1532.2" r="11.7"/>
<circle cx="2336.5" cy="1533.5" r="11.7"/>
<circle cx="2337.1" cy="1534.1" r="11.7"/>
<circle cx="2341.5" cy="1537.9" r="11.7"/>
<circle cx="2342.6" cy="1540.1" r="11.7"/>
<circle cx="2346.9" cy="1542.5" r="11.7"/>
<circle cx="2351.1" cy="1546.4" r="11.7"/>
<circle cx="2352.6" cy="1547.2" r="11.7"/>
<circle cx="2354.6" cy="1548.3" r="11.7"/>
<circle cx="2356.7" cy="1549.8" r="11.7"/>
<circle cx="2358.7" cy="1551.4" r="11.7"/>
<circle cx="2359.2" cy="1552.1" r="11.7"/>
<circle cx="2363.1" cy="1555.0" r="11.7"/>
<circle cx="2365.0" cy="1557.4" r="11.7"/>
<circle cx="2366.5" cy="1557.8" r="11.7"/>
<circle cx="2366.9" cy="1558.4" r="11.7"/>
<circle cx="2367.6" cy="1559.5" r="11.7"/>
<circle cx="2368.3" cy="1559.8" r="11.7"/>
<circle cx="2369.3" cy="1560.7" r="11.7"/>
<circle cx="2370.7" cy="1561.6" r="11.7"/>
<circle cx="2371.4" cy="1561.8" r="11.7"/>
<circle cx="2375.1" cy="1564.6" r="11.7"/>
<circle cx="2378.7" cy="1567.7" r="11.7"/>
<circle cx="2379.3" cy="1569.0" r="11.7"/>
<circle cx="2380.9" cy="1569.6" r="11.7"/>
<circle cx="2447.6" cy="1605.2" r="11.7"/>
<circle cx="2449.6" cy="1608.2" r="11.7"/>
<circle cx="2451.8" cy="1611.4" r="11.7"/>
<circle cx="2454.2" cy="1614.9" r="11.7"/>
</g>
<g fill="none" stroke="#8c0306" stroke-width="6.8">
<circle cx="274.0" cy="927.3" r="11.15"/>
<circle cx="354.0" cy="918.3" r="11.15"/>
<circle cx="461.7" cy="909.3" r="11.15"/>
<circle cx="502.0" cy="963.0" r="11.15"/>
<circle cx="609.3" cy="990.0" r="11.15"/>
<circle cx="650.0" cy="1034.7" r="11.15"/>
<circle cx="730.7" cy="1061.7" r="11.15"/>
<circle cx="771.0" cy="1079.0" r="11.15"/>
<circle cx="878.3" cy="1053.0" r="11.15"/>
<circle cx="932.3" cy="1053.0" r="11.15"/>
<circle cx="1025.3" cy="1052.3" r="11.15"/>
<circle cx="1092.7" cy="1061.0" r="11.15"/>
<circle cx="1226.7" cy="1061.0" r="11.15"/>
<circle cx="1334.3" cy="1079.0" r="11.15"/>
<circle cx="1401.0" cy="1070.5" r="11.15"/>
<circle cx="1482.0" cy="1079.2" r="11.15"/>
<circle cx="1562.5" cy="1079.2" r="11.15"/>
<circle cx="1669.7" cy="1052.5" r="11.15"/>
<circle cx="1723.0" cy="1008.0" r="11.15"/>
<circle cx="1790.0" cy="990.0" r="11.15"/>
<circle cx="1870.5" cy="1007.8" r="11.15"/>
<circle cx="1884.0" cy="1043.0" r="11.15"/>
<circle cx="1911.2" cy="1088.8" r="11.15"/>
<circle cx="2019.0" cy="1106.0" r="11.15"/>
<circle cx="2099.2" cy="1160.0" r="11.15"/>
<circle cx="2153.0" cy="1274.0" r="11.15"/>
<circle cx="2221.7" cy="1378.3" r="11.15"/>
<circle cx="2227.0" cy="1391.0" r="11.15"/>
<circle cx="2275.0" cy="1455.0" r="11.15"/>
<circle cx="2342.9" cy="1509.0" r="11.15"/>
</g>
<g fill="none" stroke="#2e3192" stroke-width="6.0">
<path stroke-width="6.3" stroke-linejoin="round" d="M222.7 1250.7C236.6 1251.6 287.0 1254.7 306.0 1256.0C325.0 1257.3 316.6 1258.1 336.7 1258.7C356.8 1259.3 389.5 1259.4 426.7 1259.8C463.9 1260.2 519.8 1260.5 560.0 1261.0C600.2 1261.5 635.5 1262.2 667.7 1263.0C699.9 1263.8 722.4 1265.4 753.3 1266.0C784.2 1266.6 822.2 1266.9 853.3 1266.7C884.4 1266.5 919.4 1265.4 940.0 1265.0C960.6 1264.6 954.9 1264.8 976.7 1264.3C998.5 1263.8 1041.7 1262.6 1070.7 1261.7C1099.8 1260.8 1128.7 1260.1 1151.0 1259.0C1173.3 1257.9 1184.3 1257.3 1204.3 1255.0C1224.2 1252.7 1246.0 1248.9 1270.7 1245.0C1295.4 1241.1 1332.4 1235.0 1352.3 1231.7C1372.2 1228.4 1376.7 1227.8 1390.0 1225.0C1403.3 1222.2 1418.4 1218.7 1432.3 1215.0C1446.2 1211.3 1457.7 1207.7 1473.3 1202.7C1488.9 1197.7 1509.0 1191.0 1525.7 1185.0C1542.4 1179.0 1560.1 1172.3 1573.3 1166.7C1586.5 1161.1 1595.1 1155.4 1605.0 1151.2C1614.9 1147.1 1625.2 1144.8 1632.7 1141.7C1640.2 1138.6 1641.9 1136.1 1650.0 1132.5C1658.1 1128.9 1670.9 1124.4 1681.3 1120.0C1691.7 1115.6 1696.3 1112.4 1712.5 1106.2C1728.7 1100.1 1767.7 1086.9 1778.8 1083.0L1792.5 1076.5L1832.5 1069.5L1859.5 1067.5L1875.0 1068.5L1900.0 1073.8L1925.0 1080.0L1952.5 1087.5L1966.7 1098.3L1996.7 1116.7L2007.5 1124.0L2019.2 1143.0L2048.0 1160.0L2061.0 1183.0L2075.0 1200.0L2089.0 1220.0L2103.0 1238.0L2130.0 1258.0L2157.0 1293.0L2171.0 1329.0L2185.0 1358.0L2212.0 1380.0L2225.0 1397.0L2237.0 1413.0L2253.0 1423.0L2267.0 1438.0L2280.0 1458.0L2294.0 1480.0"/>
<circle cx="306.0" cy="1255.0" r="11.05"/>
<circle cx="385.7" cy="1239.0" r="11.05"/>
<circle cx="426.7" cy="1259.3" r="11.05"/>
<circle cx="493.3" cy="1256.7" r="11.05"/>
<circle cx="560.0" cy="1254.7" r="11.05"/>
<circle cx="601.0" cy="1263.0" r="11.05"/>
<circle cx="667.7" cy="1262.3" r="11.05"/>
<circle cx="721.0" cy="1250.7" r="11.05"/>
<circle cx="802.3" cy="1260.7" r="11.05"/>
<circle cx="855.7" cy="1259.3" r="11.05"/>
<circle cx="896.0" cy="1252.7" r="11.05"/>
<circle cx="976.7" cy="1259.0" r="11.05"/>
<circle cx="1030.0" cy="1245.0" r="11.05"/>
<circle cx="1070.7" cy="1259.0" r="11.05"/>
<circle cx="1097.3" cy="1249.0" r="11.05"/>
<circle cx="1151.0" cy="1254.0" r="11.05"/>
<circle cx="1204.3" cy="1246.7" r="11.05"/>
<circle cx="1231.7" cy="1259.0" r="11.05"/>
<circle cx="1270.7" cy="1225.0" r="11.05"/>
<circle cx="1270.7" cy="1238.3" r="11.05"/>
<circle cx="1352.3" cy="1245.0" r="11.05"/>
<circle cx="1432.2" cy="1210.5" r="11.05"/>
<circle cx="1432.2" cy="1223.5" r="11.05"/>
<circle cx="1499.0" cy="1213.2" r="11.05"/>
<circle cx="1525.3" cy="1171.8" r="11.05"/>
<circle cx="1552.2" cy="1190.0" r="11.05"/>
<circle cx="1605.5" cy="1150.0" r="11.05"/>
<circle cx="1632.3" cy="1135.0" r="11.05"/>
<circle cx="1632.3" cy="1162.6" r="11.05"/>
<circle cx="1672.2" cy="1145.0" r="11.05"/>
<circle cx="1698.8" cy="1131.2" r="11.05"/>
<circle cx="1712.0" cy="1103.8" r="11.05"/>
<circle cx="1712.5" cy="1118.8" r="11.05"/>
<circle cx="1778.8" cy="1083.0" r="11.05"/>
<circle cx="1778.8" cy="1093.2" r="11.05"/>
<circle cx="1778.8" cy="1103.8" r="11.05"/>
<circle cx="1791.5" cy="1055.5" r="11.05"/>
<circle cx="1791.5" cy="1064.0" r="11.05"/>
<circle cx="1832.0" cy="1038.0" r="11.05"/>
<circle cx="1859.2" cy="1075.5" r="11.05"/>
<circle cx="1872.2" cy="1047.8" r="11.05"/>
<circle cx="1886.2" cy="1058.8" r="11.05"/>
<circle cx="1900.0" cy="1068.3" r="11.05"/>
<circle cx="1899.0" cy="1086.2" r="11.05"/>
<circle cx="1953.3" cy="1079.8" r="11.05"/>
<circle cx="1953.3" cy="1087.2" r="11.05"/>
<circle cx="1953.3" cy="1094.5" r="11.05"/>
<circle cx="1953.3" cy="1101.8" r="11.05"/>
<circle cx="2007.5" cy="1110.8" r="11.05"/>
<circle cx="2007.5" cy="1120.0" r="11.05"/>
<circle cx="2007.5" cy="1128.3" r="11.05"/>
<circle cx="2005.0" cy="1135.0" r="11.05"/>
<circle cx="2019.2" cy="1145.0" r="11.05"/>
<circle cx="2049.2" cy="1152.5" r="11.05"/>
<circle cx="2046.7" cy="1168.3" r="11.05"/>
<circle cx="2061.7" cy="1175.0" r="11.05"/>
<circle cx="2061.0" cy="1183.5" r="11.05"/>
<circle cx="2060.0" cy="1191.7" r="11.05"/>
<circle cx="2075.0" cy="1200.0" r="11.05"/>
<circle cx="2088.3" cy="1215.0" r="11.05"/>
<circle cx="2090.0" cy="1225.0" r="11.05"/>
<circle cx="2103.3" cy="1233.3" r="11.05"/>
<circle cx="2103.3" cy="1243.3" r="11.05"/>
<circle cx="2129.5" cy="1258.3" r="11.05"/>
<circle cx="2156.5" cy="1275.0" r="11.05"/>
<circle cx="2157.5" cy="1295.0" r="11.05"/>
<circle cx="2156.7" cy="1317.5" r="11.05"/>
<circle cx="2170.8" cy="1329.2" r="11.05"/>
<circle cx="2185.0" cy="1358.3" r="11.05"/>
<circle cx="2197.0" cy="1367.0" r="11.05"/>
<circle cx="2211.7" cy="1380.0" r="11.05"/>
<circle cx="2225.0" cy="1396.7" r="11.05"/>
<circle cx="2236.7" cy="1413.3" r="11.05"/>
<circle cx="2253.3" cy="1423.3" r="11.05"/>
<circle cx="2266.7" cy="1438.3" r="11.05"/>
<circle cx="2280.0" cy="1450.0" r="11.05"/>
<circle cx="2280.0" cy="1466.7" r="11.05"/>
<circle cx="2294.5" cy="1480.0" r="11.05"/>
<circle cx="2183.4" cy="1340.1" r="11.05"/>
<circle cx="2183.9" cy="1351.1" r="11.05"/>
<circle cx="2183.7" cy="1361.0" r="11.05"/>
<circle cx="2195.1" cy="1352.2" r="11.05"/>
<circle cx="2197.8" cy="1363.1" r="11.05"/>
<circle cx="2197.7" cy="1370.4" r="11.05"/>
<circle cx="2209.9" cy="1362.1" r="11.05"/>
<circle cx="2210.1" cy="1373.7" r="11.05"/>
<circle cx="2208.5" cy="1382.0" r="11.05"/>
<circle cx="2222.8" cy="1382.1" r="11.05"/>
<circle cx="2224.3" cy="1388.3" r="11.05"/>
<circle cx="2224.4" cy="1398.2" r="11.05"/>
<circle cx="2237.4" cy="1396.1" r="11.05"/>
<circle cx="2235.5" cy="1409.9" r="11.05"/>
<circle cx="2236.1" cy="1416.6" r="11.05"/>
<circle cx="2251.9" cy="1408.3" r="11.05"/>
<circle cx="2249.9" cy="1418.7" r="11.05"/>
<circle cx="2250.6" cy="1427.3" r="11.05"/>
<circle cx="2263.1" cy="1422.0" r="11.05"/>
<circle cx="2264.6" cy="1432.1" r="11.05"/>
<circle cx="2265.2" cy="1438.8" r="11.05"/>
<circle cx="2277.1" cy="1437.5" r="11.05"/>
<circle cx="2276.4" cy="1447.0" r="11.05"/>
<circle cx="2276.9" cy="1459.7" r="11.05"/>
<circle cx="2289.5" cy="1461.2" r="11.05"/>
<circle cx="2290.5" cy="1469.3" r="11.05"/>
<circle cx="2292.0" cy="1480.2" r="11.05"/>
</g>
</svg>
</body></html>
